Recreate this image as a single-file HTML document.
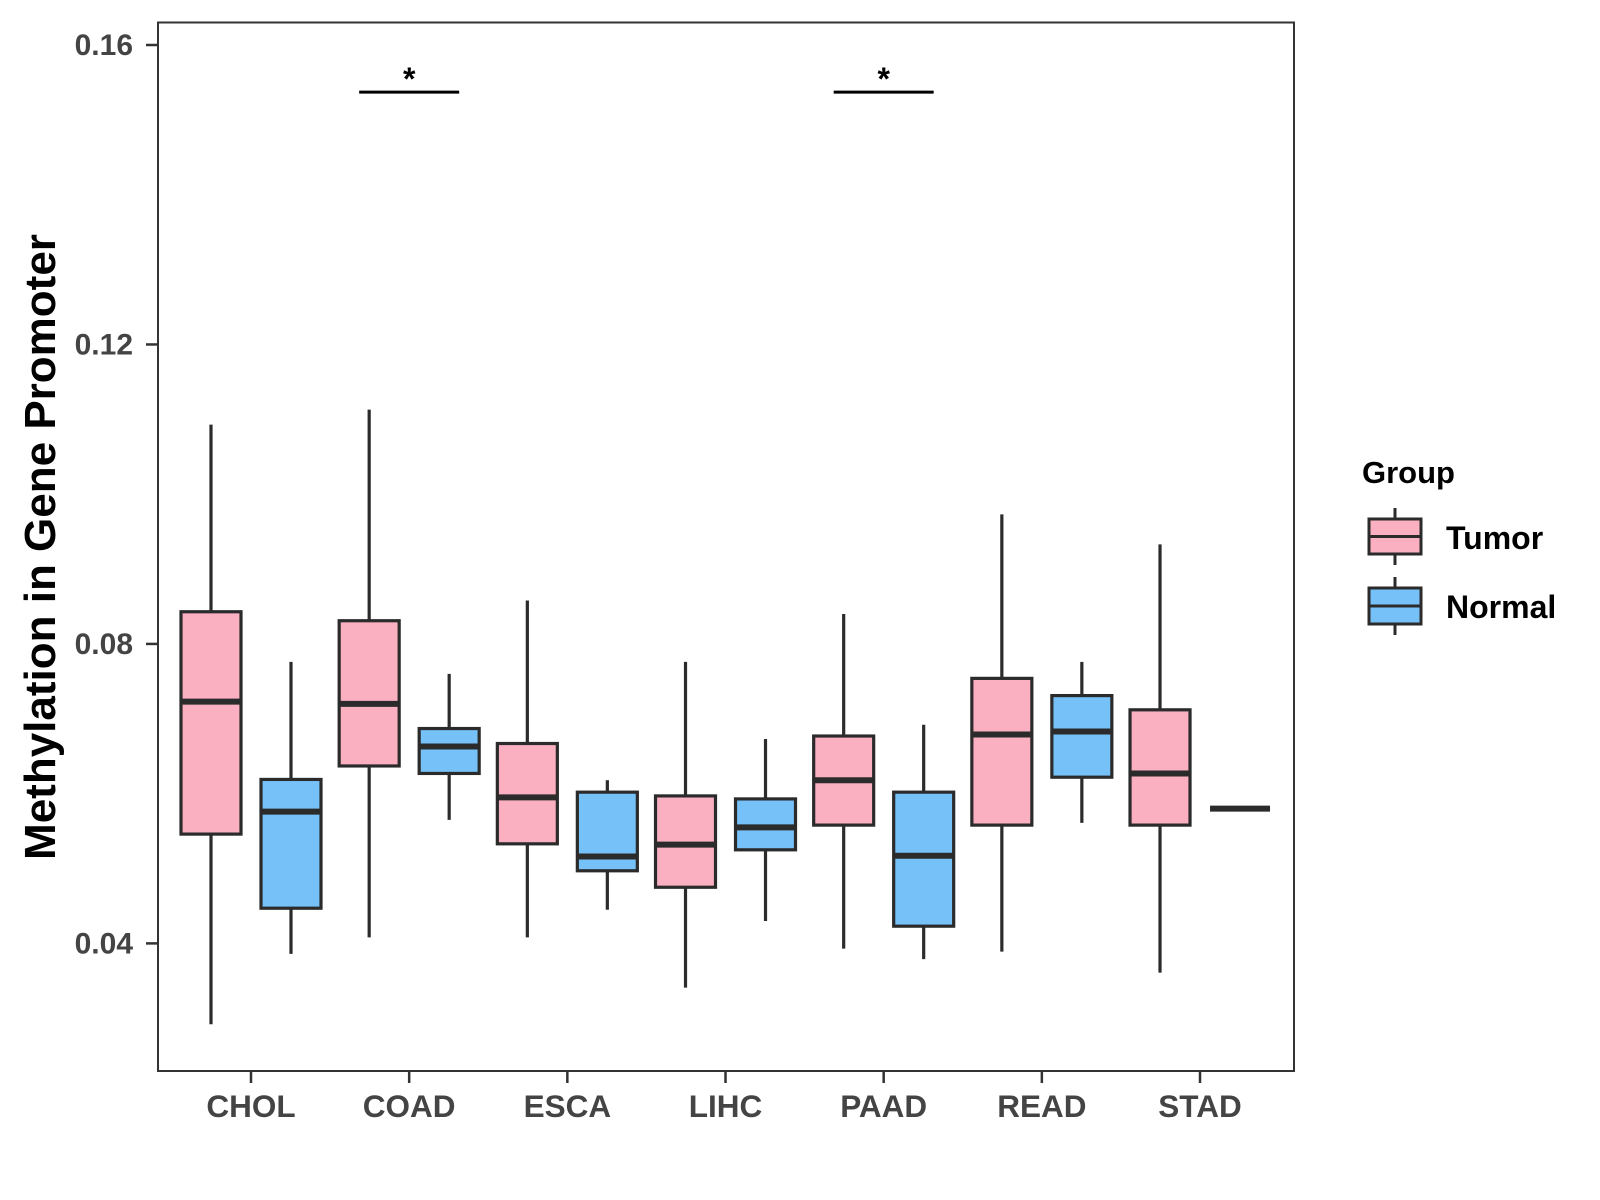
<!DOCTYPE html>
<html><head><meta charset="utf-8"><style>
html,body{margin:0;padding:0;background:#fff;}
svg{display:block;font-family:"Liberation Sans",sans-serif;}
</style></head><body>
<svg id="chart" width="1600" height="1200" viewBox="0 0 1600 1200">
<rect x="0" y="0" width="1600" height="1200" fill="#fff"/>
<g id="plot"></g>
</svg>
<script>
const categories = ["CHOL","COAD","ESCA","LIHC","PAAD","READ","STAD"];
// [lowWhisker, Q1, median, Q3, highWhisker]
const tumorStats = [
 [0.0292,0.0546,0.0723,0.0843,0.1093],
 [0.0408,0.0637,0.0720,0.0831,0.1113],
 [0.0408,0.0533,0.0595,0.0667,0.0858],
 [0.0341,0.0475,0.0532,0.0597,0.0776],
 [0.0393,0.0558,0.0618,0.0677,0.0840],
 [0.0389,0.0558,0.0679,0.0754,0.0973],
 [0.0361,0.0558,0.0627,0.0712,0.0933]
];
const normalStats = [
 [0.0386,0.0447,0.0576,0.0619,0.0776],
 [0.0565,0.0627,0.0663,0.0687,0.0760],
 [0.0445,0.0497,0.0516,0.0602,0.0618],
 [0.0430,0.0525,0.0555,0.0593,0.0673],
 [0.0379,0.0423,0.0517,0.0602,0.0692],
 [0.0561,0.0622,0.0683,0.0731,0.0776],
 [0.0580,0.0580,0.0580,0.0580,0.0580]
];
const yTicks = [0.04,0.08,0.12,0.16];
const yTickLabels = ["0.04","0.08","0.12","0.16"];
const sigCategories = ["COAD","PAAD"];
const sigLevel = 0.1537;

const NS="http://www.w3.org/2000/svg";
const g=document.getElementById('plot');
const L=158,T=22.5,R=1294,B=1071;
function y(v){return 45+(0.16-v)/0.12*898.4;}
function x(i){return 251+i*158.17;}
function mk(tag,attrs,parent){const e=document.createElementNS(NS,tag);for(const k in attrs)e.setAttribute(k,attrs[k]);(parent||g).appendChild(e);return e;}

const panel=mk('rect',{x:L,y:T,width:R-L,height:B-T,fill:'none',stroke:'#333','stroke-width':2});



yTicks.forEach((v,i)=>{
  const t=mk('line',{x1:L-12,x2:L,y1:y(v),y2:y(v),stroke:'#333','stroke-width':2.5});
  
  
  const tx=mk('text',{x:133,y:y(v)+10,'text-anchor':'end','font-size':30,'font-weight':'bold',fill:'#444'});
  tx.textContent=yTickLabels[i];
  
  
});
categories.forEach((c,i)=>{
  const t=mk('line',{x1:x(i),x2:x(i),y1:B,y2:B+12,stroke:'#333','stroke-width':2.5});
  
  
  const tx=mk('text',{x:x(i),y:1117,'text-anchor':'middle','font-size':31.5,'font-weight':'bold',fill:'#444'});
  tx.textContent=c;
  
  
});

function box(s,cx,fill,name){
  const grp=mk('g',{});
  
  
  const hw=30;
  mk('line',{x1:cx,x2:cx,y1:y(s[4]),y2:y(s[3]),stroke:'#2b2b2b','stroke-width':3.2},grp);
  mk('line',{x1:cx,x2:cx,y1:y(s[1]),y2:y(s[0]),stroke:'#2b2b2b','stroke-width':3.2},grp);
  mk('rect',{x:cx-hw,y:y(s[3]),width:hw*2,height:Math.max(0,y(s[1])-y(s[3])),fill:fill,stroke:'#2b2b2b','stroke-width':3.2},grp);
  mk('line',{x1:cx-hw,x2:cx+hw,y1:y(s[2]),y2:y(s[2]),stroke:'#2b2b2b','stroke-width':6},grp);
}
categories.forEach((c,i)=>{
  box(tumorStats[i],x(i)-40,'#FBB0C2','box-tumor-'+c.toLowerCase());
  box(normalStats[i],x(i)+40,'#76C1F8','box-normal-'+c.toLowerCase());
});
sigCategories.forEach(c=>{
  const i=categories.indexOf(c);
  const l=mk('line',{x1:x(i)-50,x2:x(i)+50,y1:y(sigLevel),y2:y(sigLevel),stroke:'#000','stroke-width':3});
  
  
  const s=mk('text',{x:x(i),y:y(sigLevel)-2,'text-anchor':'middle','font-size':32,'font-weight':'bold',fill:'#000'});
  s.textContent='*';
  
  
});

const yt=mk('text',{x:0,y:0,transform:'translate(55,547) rotate(-90)','text-anchor':'middle','font-size':44,'font-weight':'bold',fill:'#000'});
yt.textContent='Methylation in Gene Promoter';



const lg=mk('g',{});


const lt=mk('text',{x:1362,y:483,'font-size':31,'font-weight':'bold',fill:'#000'},lg);
lt.textContent='Group';


[["Tumor","#FBB0C2",519,554,549],["Normal","#76C1F8",588,624,618]].forEach(d=>{
  const e=mk('g',{},lg);
  
  
  mk('line',{x1:1395,x2:1395,y1:d[2]-11,y2:d[3]+11,stroke:'#2b2b2b','stroke-width':3},e);
  mk('rect',{x:1369,y:d[2],width:52,height:d[3]-d[2],fill:d[1],stroke:'#2b2b2b','stroke-width':3},e);
  mk('line',{x1:1369,x2:1421,y1:(d[2]+d[3])/2,y2:(d[2]+d[3])/2,stroke:'#2b2b2b','stroke-width':3},e);
  const t=mk('text',{x:1446,y:d[4],'font-size':32,'font-weight':'bold',fill:'#000'},e);
  t.textContent=d[0];
});
</script>
</body></html>
